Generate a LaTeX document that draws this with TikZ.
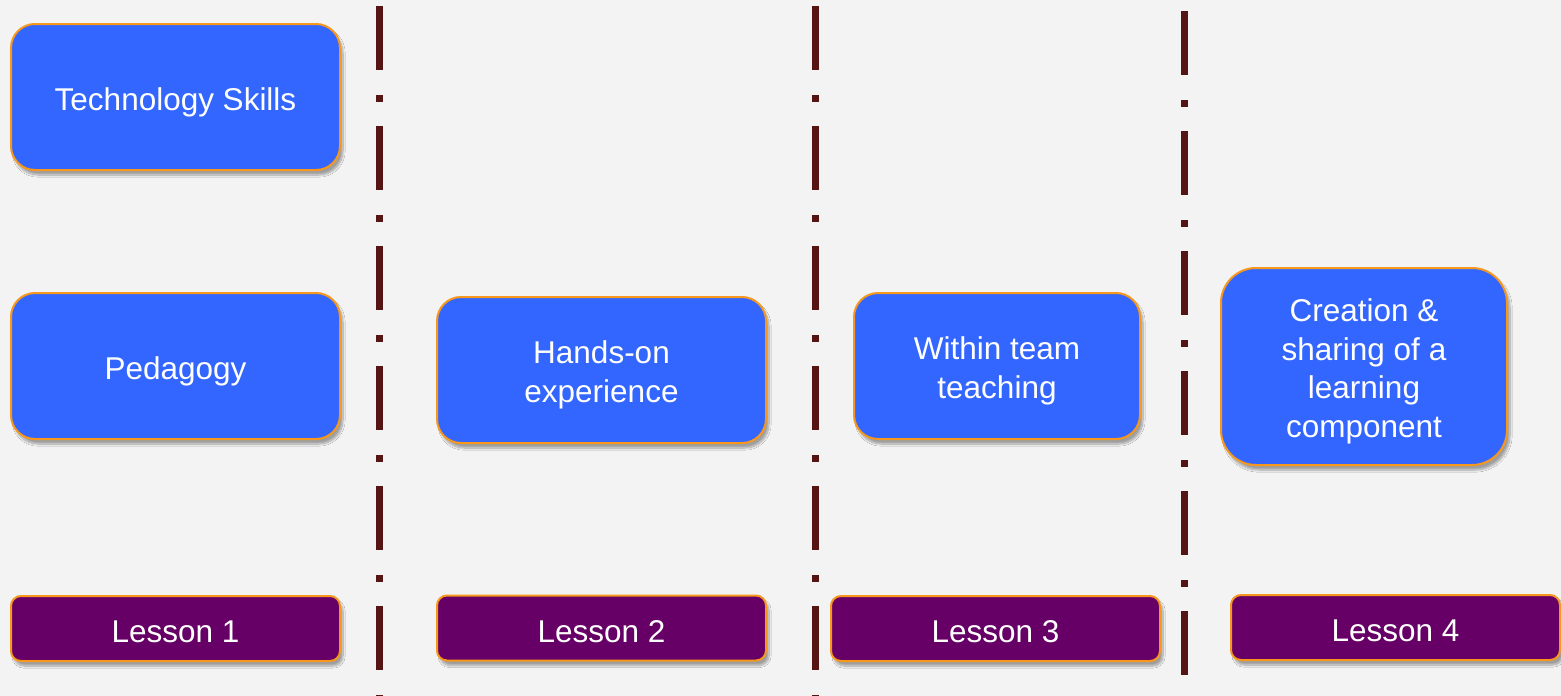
\documentclass[tikz,border=0pt]{standalone}
\usepackage{fontspec}
\setmainfont{Liberation Sans}
\usetikzlibrary{shadows.blur}
\definecolor{pagebg}{HTML}{F3F3F3}
\definecolor{topicblue}{HTML}{3366FF}
\definecolor{lessonpurple}{HTML}{660066}
\definecolor{edgeorange}{HTML}{F7981D}
\definecolor{divider}{HTML}{551515}
% struts on the first line lower the text block slightly inside its box
\newcommand{\boxlift}{\rule{0pt}{33pt}}
\newcommand{\tablift}{\rule{0pt}{29pt}}
\tikzset{
  boxbase/.style={draw=edgeorange, line width=2pt, inner sep=0pt, text=white,
    font=\fontsize{31.5}{38.5}\selectfont, align=center,
    blur shadow={shadow xshift=3pt, shadow yshift=-5pt, shadow blur steps=10, shadow opacity=35}},
  topic/.style={boxbase, fill=topicblue, rounded corners=24pt},
  lesson/.style={boxbase, fill=lessonpurple, rounded corners=10pt,
    minimum width=329pt, minimum height=65pt},
  divline/.style={draw=divider, line width=7pt,
    dash pattern=on 64pt off 25pt on 7pt off 24pt}
}
\begin{document}
\begin{tikzpicture}[x=1pt,y=-1pt]
  \useasboundingbox[fill=pagebg] (0,0) rectangle (1561,696);

  % column dividers
  \coordinate (d1a) at (379,6);    \coordinate (d1b) at (379,696);
  \coordinate (d2a) at (815,6);    \coordinate (d2b) at (815,696);
  \coordinate (d3a) at (1184,11);  \coordinate (d3b) at (1184,696);
  \draw[divline] (d1a) -- (d1b);
  \draw[divline] (d2a) -- (d2b);
  \draw[divline] (d3a) -- (d3b);

  % topic boxes
  \node[topic, minimum width=329pt, minimum height=146pt] (tech) at (175.5,97) {\boxlift Technology Skills};
  \node[topic, minimum width=329pt, minimum height=146pt] (ped) at (175.5,366) {\boxlift Pedagogy};
  \node[topic, minimum width=329pt, minimum height=146pt] (hands) at (601.5,370) {\boxlift Hands-on\\experience};
  \node[topic, minimum width=286pt, minimum height=146pt] (within) at (997,366) {\boxlift Within team\\teaching};
  \node[topic, rounded corners=35pt, minimum width=286pt, minimum height=197pt] (create) at (1364,366.5)
    {\boxlift Creation \&\\sharing of a\\learning\\component};

  % lesson labels
  \node[lesson] (l1) at (175.5,628.5) {\tablift Lesson 1};
  \node[lesson] (l2) at (601.5,628) {\tablift Lesson 2};
  \node[lesson] (l3) at (995.5,628.5) {\tablift Lesson 3};
  \node[lesson] (l4) at (1395.5,627.5) {\tablift Lesson 4};
\end{tikzpicture}
\end{document}
